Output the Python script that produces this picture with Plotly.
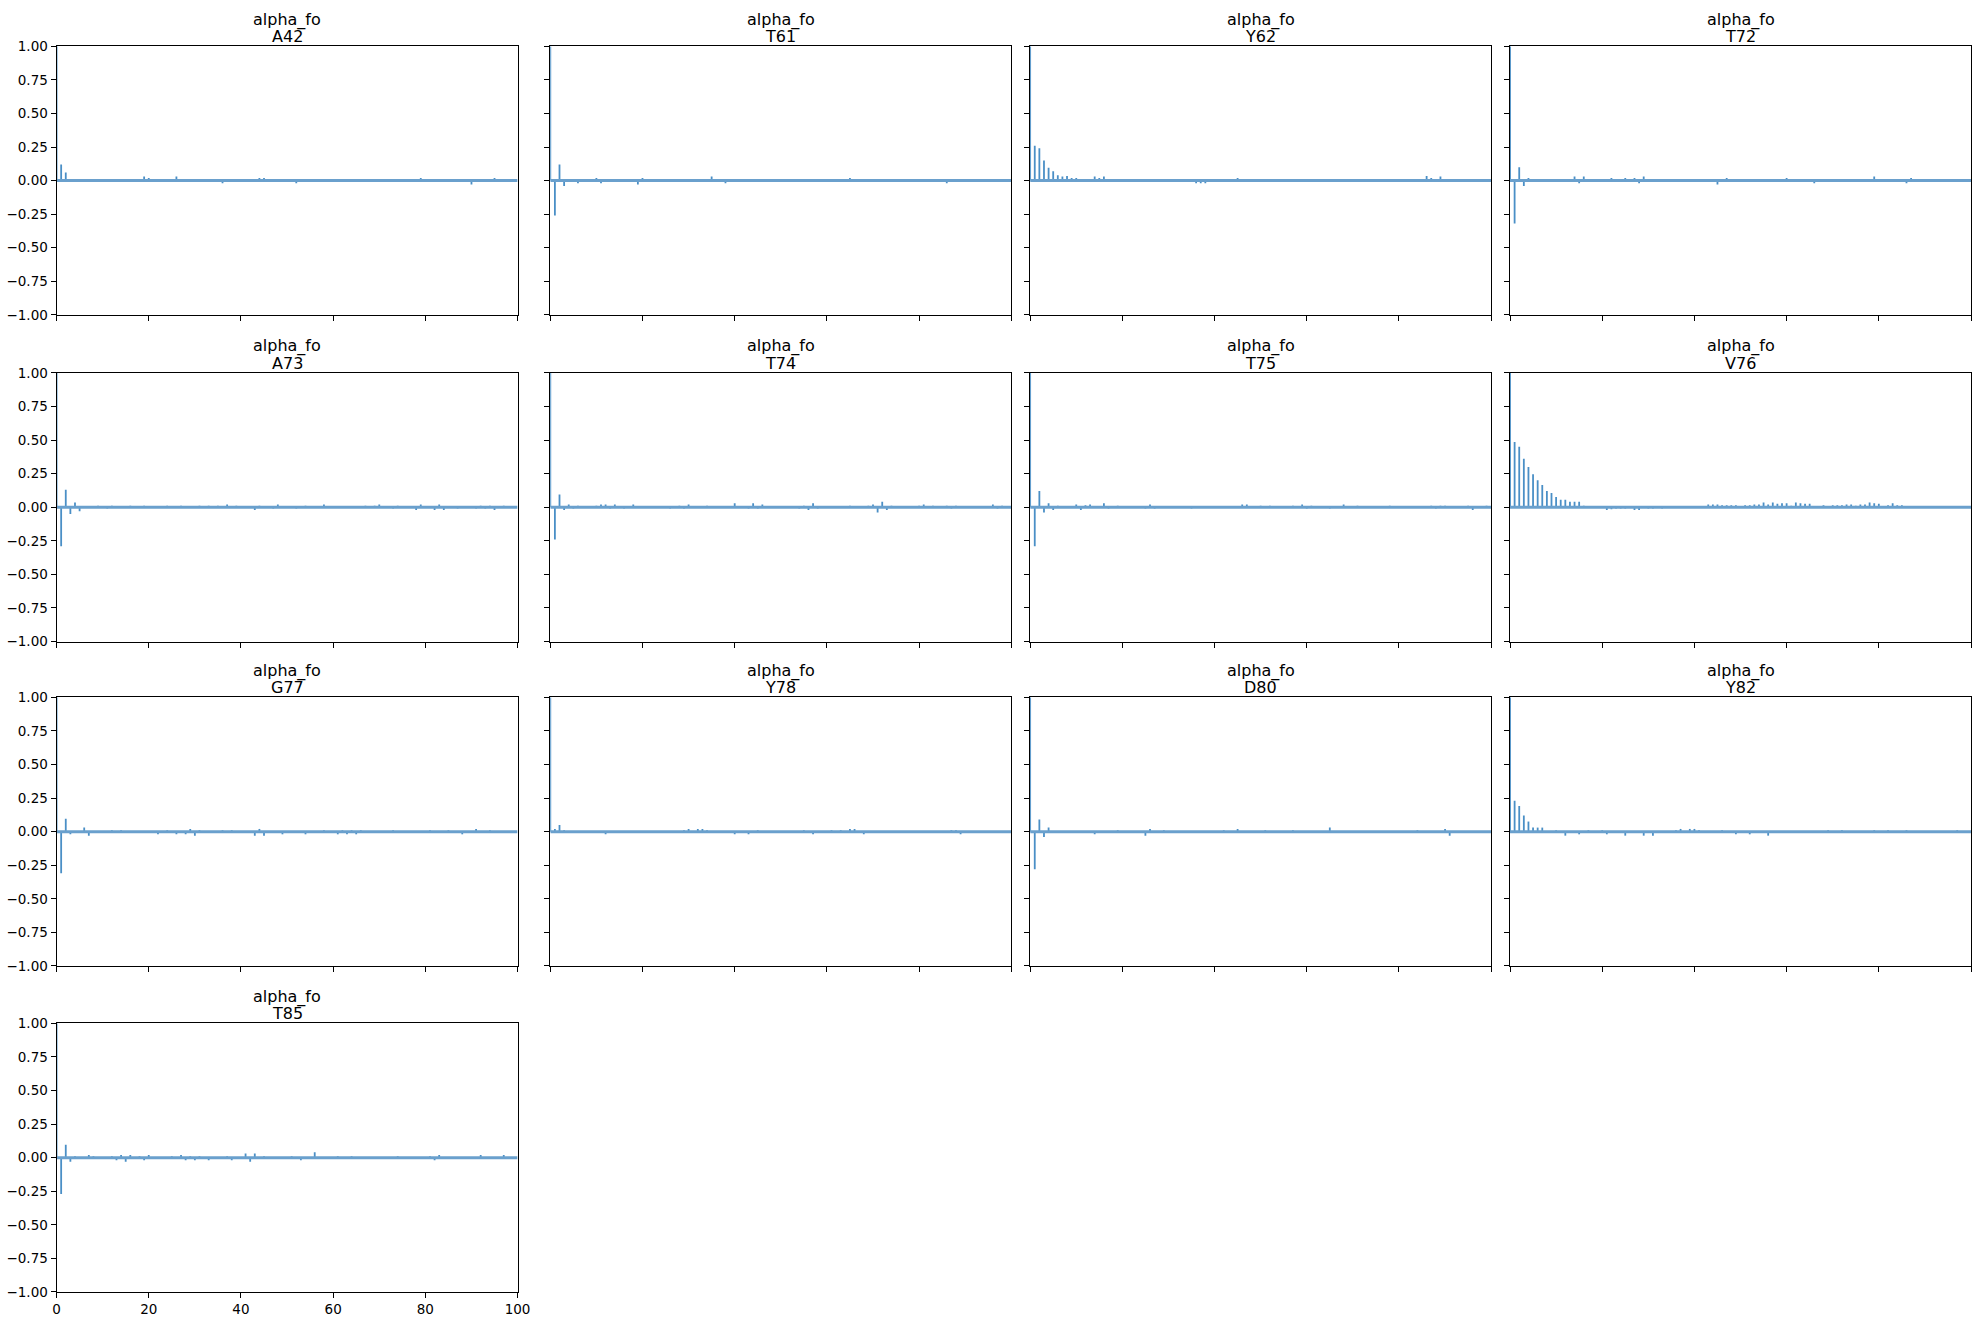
import plotly.graph_objects as go

param_name = "alpha_fo"
var_names = ["A42", "T61", "Y62", "T72", "A73", "T74", "T75", "V76",
             "G77", "Y78", "D80", "Y82", "T85"]
lags = list(range(100))
max_lag = 100

acf_A42 = [1.0, 0.12, 0.06, 0.01, 0.004, 0.01, 0.002, -0.003, -0.01, -0.01,
           -0.01, 0.002, 0.004, -0.01, 0.003, 0.01, 0.002, 0.004, 0.006, 0.03,
           0.02, 0.004, 0.01, 0.002, 0.001, 0.003, 0.03, 0.006, -0.01, -0.01,
           0.01, 0.004, 0.003, 0.01, 0.002, -0.004, -0.02, 0.002, -0.01, 0.01,
           0.003, 0.002, 0.01, 0.004, 0.02, 0.02, 0.003, 0.002, 0.004, -0.003,
           0.002, -0.004, -0.02, 0.003, 0.002, 0.004, 0.01, -0.01, 0.003, 0.002,
           -0.003, -0.01, 0.01, 0.004, 0.002, 0.01, 0.003, -0.003, -0.01, 0.002,
           0.003, 0.004, 0.002, 0.003, -0.004, 0.002, -0.01, -0.01, 0.004, 0.02,
           0.003, 0.01, 0.002, 0.01, 0.004, 0.002, -0.003, 0.003, 0.002, 0.01,
           -0.03, 0.01, 0.002, 0.004, 0.01, 0.02, 0.003, 0.01, 0.004, 0.003]
acf_T61 = [1.0, -0.26, 0.12, -0.04, 0.01, 0.01, -0.02, 0.003, 0.004, 0.002,
           0.02, -0.02, 0.01, 0.002, 0.003, -0.01, 0.004, -0.01, 0.002, -0.03,
           0.02, 0.003, 0.004, 0.002, 0.003, 0.004, 0.002, 0.003, 0.002, 0.003,
           0.002, 0.004, 0.002, 0.003, 0.001, 0.03, 0.003, 0.002, -0.02, 0.003,
           0.004, 0.01, -0.01, 0.01, 0.002, 0.003, 0.004, 0.01, -0.01, 0.003,
           -0.01, 0.002, 0.004, 0.003, 0.01, 0.002, 0.003, 0.004, 0.002, -0.01,
           0.01, 0.003, 0.004, 0.002, 0.003, 0.02, 0.003, 0.004, 0.002, -0.01,
           0.003, -0.01, 0.01, 0.002, 0.003, -0.01, 0.004, 0.01, 0.002, 0.003,
           0.01, -0.01, 0.01, 0.002, 0.01, -0.01, -0.02, 0.01, 0.002, 0.003,
           0.004, 0.002, -0.01, 0.003, 0.002, 0.01, 0.003, -0.01, 0.002, 0.003]
acf_Y62 = [1.0, 0.26, 0.24, 0.15, 0.095, 0.07, 0.04, 0.03, 0.035, 0.02,
           0.02, 0.01, 0.005, 0.005, 0.03, 0.02, 0.03, 0.005, 0.003, 0.002,
           0.001, 0.003, -0.01, 0.002, 0.004, 0.002, 0.003, -0.002, -0.01, 0.01,
           0.003, 0.002, 0.001, 0.003, 0.002, -0.003, -0.02, -0.02, -0.02, 0.003,
           -0.01, 0.002, 0.01, 0.003, 0.01, 0.02, 0.01, 0.01, 0.01, 0.01,
           -0.01, 0.003, 0.002, 0.01, 0.003, 0.002, 0.004, 0.003, -0.01, -0.01,
           0.003, -0.01, 0.002, -0.01, 0.002, 0.003, 0.001, 0.002, 0.003, 0.002,
           0.003, 0.002, 0.001, 0.002, 0.001, 0.001, 0.002, 0.001, 0.002, 0.001,
           0.001, 0.002, 0.003, 0.002, 0.003, 0.004, 0.035, 0.02, 0.003, 0.03,
           0.004, 0.01, 0.003, 0.002, 0.001, 0.002, 0.001, 0.002, 0.003, 0.002]
acf_T72 = [1.0, -0.32, 0.10, -0.04, 0.02, -0.01, 0.01, -0.01, 0.003, 0.002,
           0.004, 0.003, 0.002, 0.004, 0.03, -0.02, 0.03, -0.01, 0.002, 0.01,
           -0.01, 0.003, 0.02, 0.002, -0.01, 0.02, 0.003, 0.02, -0.02, 0.03,
           0.003, 0.002, -0.01, 0.003, 0.002, 0.004, 0.002, 0.003, 0.002, 0.01,
           0.003, 0.002, 0.004, 0.003, 0.01, -0.03, 0.003, 0.02, 0.002, 0.004,
           -0.01, 0.01, 0.003, 0.002, 0.004, 0.003, 0.002, 0.003, 0.004, 0.002,
           0.02, -0.01, 0.003, -0.01, 0.002, 0.003, -0.02, 0.002, 0.003, 0.002,
           0.003, -0.01, 0.002, 0.003, 0.004, 0.002, 0.003, 0.002, -0.01, 0.03,
           -0.01, 0.01, -0.01, 0.01, 0.002, 0.003, -0.02, 0.02, 0.002, 0.01,
           0.01, 0.003, 0.002, 0.004, 0.002, 0.003, 0.002, 0.004, 0.003, 0.002]
acf_A73 = [1.0, -0.29, 0.13, -0.05, 0.035, -0.03, 0.003, 0.004, 0.002, 0.01,
           0.003, -0.01, 0.01, 0.002, 0.003, 0.004, 0.01, 0.002, 0.003, 0.01,
           0.002, 0.003, 0.004, 0.002, 0.01, 0.003, 0.002, 0.01, 0.003, 0.002,
           0.003, 0.01, 0.002, 0.01, 0.003, 0.01, 0.002, 0.02, 0.003, 0.01,
           0.002, 0.003, 0.004, -0.02, 0.01, 0.003, 0.002, -0.01, 0.02, 0.003,
           0.002, 0.004, -0.01, 0.003, 0.01, 0.002, 0.003, 0.004, 0.02, 0.003,
           0.002, 0.003, 0.004, 0.002, 0.003, 0.004, 0.002, 0.01, 0.003, 0.01,
           0.02, 0.003, 0.002, -0.01, 0.01, 0.003, 0.002, 0.004, -0.02, 0.02,
           0.003, 0.002, -0.02, 0.02, -0.02, 0.003, 0.002, -0.01, 0.003, 0.004,
           0.002, -0.01, 0.01, -0.01, 0.01, -0.02, 0.003, 0.01, 0.002, 0.003]
acf_T74 = [1.0, -0.24, 0.095, -0.02, 0.02, -0.01, 0.01, 0.003, 0.002, 0.004,
           0.01, 0.02, 0.02, -0.01, 0.02, 0.003, -0.01, 0.002, 0.02, 0.003,
           0.002, 0.004, 0.003, 0.002, 0.003, 0.002, -0.01, 0.003, 0.01, -0.01,
           0.02, 0.003, 0.002, 0.004, 0.01, 0.003, 0.002, 0.003, 0.004, 0.002,
           0.03, 0.003, 0.002, -0.01, 0.03, -0.01, 0.02, 0.003, 0.002, 0.004,
           0.003, 0.002, 0.003, 0.004, -0.01, 0.01, -0.02, 0.03, -0.01, 0.003,
           0.002, 0.004, 0.003, 0.002, 0.003, 0.01, 0.002, 0.003, 0.004, 0.01,
           0.02, -0.04, 0.04, -0.02, 0.01, 0.003, 0.002, 0.004, 0.003, 0.002,
           0.01, 0.02, 0.003, 0.01, 0.002, 0.003, 0.01, -0.01, 0.01, 0.003,
           0.002, 0.004, 0.003, 0.002, 0.003, 0.004, 0.02, -0.01, 0.01, 0.003]
acf_T75 = [1.0, -0.29, 0.12, -0.04, 0.03, -0.02, 0.01, 0.003, 0.002, 0.004,
           0.02, -0.02, 0.015, 0.02, 0.003, 0.002, 0.03, -0.01, 0.003, 0.01,
           0.003, 0.004, 0.002, 0.003, 0.002, -0.01, 0.02, -0.01, 0.003, 0.002,
           0.004, 0.003, 0.002, 0.003, 0.004, -0.01, 0.002, 0.003, 0.002, 0.004,
           0.003, 0.002, 0.003, 0.004, 0.002, 0.003, 0.02, 0.02, 0.003, 0.002,
           0.01, 0.003, 0.01, 0.002, 0.004, 0.003, 0.002, 0.01, 0.003, 0.02,
           -0.01, 0.01, 0.002, 0.003, 0.004, -0.01, 0.002, 0.003, 0.02, 0.003,
           0.002, 0.01, 0.003, 0.002, 0.004, 0.003, 0.002, 0.003, 0.01, 0.002,
           0.003, 0.004, 0.002, 0.003, 0.002, 0.004, 0.003, 0.01, -0.01, 0.01,
           0.01, 0.003, 0.002, 0.004, 0.003, 0.01, -0.02, 0.003, 0.002, 0.01]
acf_V76 = [1.0, 0.485, 0.45, 0.36, 0.30, 0.245, 0.20, 0.165, 0.12, 0.105,
           0.075, 0.055, 0.055, 0.04, 0.04, 0.04, 0.01, 0.005, 0.003, -0.002,
           -0.005, -0.02, -0.015, -0.01, -0.01, -0.01, -0.003, -0.02, -0.02, -0.005,
           -0.01, -0.01, -0.005, -0.01, -0.003, 0.002, 0.003, 0.002, 0.001, 0.002,
           0.005, 0.003, 0.005, 0.02, 0.02, 0.02, 0.015, 0.015, 0.015, 0.015,
           0.005, 0.015, 0.015, 0.02, 0.02, 0.035, 0.02, 0.035, 0.025, 0.03,
           0.03, 0.01, 0.035, 0.03, 0.025, 0.025, 0.005, 0.003, 0.015, 0.003,
           0.015, 0.015, 0.015, 0.02, 0.02, 0.01, 0.02, 0.02, 0.035, 0.03,
           0.025, 0.005, 0.015, 0.03, 0.015, 0.015, 0.003, -0.003, -0.002, 0.002,
           0.003, -0.002, 0.002, 0.003, 0.002, -0.003, 0.002, 0.005, 0.003, 0.002]
acf_G77 = [1.0, -0.31, 0.095, -0.02, 0.003, -0.01, 0.03, -0.03, 0.003, 0.002,
           0.004, -0.01, 0.01, -0.01, 0.01, 0.003, 0.002, 0.004, 0.003, 0.002,
           -0.01, 0.003, -0.02, 0.002, 0.01, 0.003, -0.02, 0.002, -0.02, 0.02,
           -0.03, 0.01, 0.003, 0.002, 0.004, 0.003, 0.01, 0.002, 0.01, -0.01,
           0.003, 0.002, 0.004, -0.03, 0.02, -0.03, 0.003, 0.002, 0.004, -0.02,
           0.003, 0.002, 0.004, 0.003, -0.02, 0.002, 0.003, 0.004, 0.01, 0.002,
           0.003, -0.02, 0.01, -0.02, 0.01, -0.02, 0.01, 0.003, 0.002, 0.004,
           0.003, 0.002, -0.01, 0.01, 0.003, 0.002, 0.004, 0.003, 0.002, 0.003,
           0.004, 0.01, 0.002, 0.003, 0.004, 0.01, 0.002, 0.003, -0.02, 0.002,
           -0.01, 0.02, 0.003, 0.002, 0.01, -0.01, 0.003, 0.002, -0.01, 0.003]
acf_Y78 = [1.0, 0.02, 0.05, 0.01, 0.002, 0.001, 0.002, 0.001, 0.002, 0.003,
           0.001, 0.002, -0.02, 0.001, 0.002, 0.003, 0.002, 0.001, 0.002, 0.003,
           0.002, 0.001, -0.01, 0.002, 0.003, 0.002, 0.001, 0.002, 0.003, 0.01,
           0.02, 0.003, 0.02, 0.02, 0.01, 0.003, 0.002, 0.004, 0.002, 0.003,
           -0.02, 0.003, 0.002, -0.02, 0.003, 0.01, 0.002, -0.01, 0.003, 0.002,
           0.003, 0.002, 0.004, 0.003, -0.01, 0.01, 0.002, -0.02, -0.01, 0.003,
           0.002, 0.01, 0.003, 0.01, 0.002, 0.02, 0.02, -0.01, -0.02, 0.003,
           0.002, 0.003, -0.01, 0.002, 0.003, 0.002, 0.004, 0.003, 0.002, 0.003,
           0.002, 0.003, 0.002, 0.004, -0.01, 0.003, 0.002, 0.01, 0.01, -0.02,
           0.003, 0.002, 0.003, 0.002, 0.003, 0.002, 0.003, -0.01, 0.002, 0.003]
acf_D80 = [1.0, -0.28, 0.09, -0.04, 0.03, 0.002, 0.003, 0.002, 0.003, 0.004,
           0.003, -0.01, 0.002, 0.003, -0.02, 0.002, 0.003, 0.004, 0.002, 0.01,
           0.003, 0.002, -0.01, 0.003, 0.002, -0.03, 0.02, 0.003, -0.01, 0.01,
           0.003, 0.002, 0.003, 0.004, 0.002, 0.003, 0.002, 0.003, 0.002, 0.003,
           0.002, -0.01, 0.01, -0.01, 0.002, 0.02, 0.003, 0.002, 0.004, 0.003,
           -0.01, 0.01, 0.003, -0.01, 0.002, 0.003, 0.004, 0.01, 0.002, 0.003,
           0.002, 0.003, 0.004, 0.002, 0.003, 0.03, -0.01, 0.003, 0.002, 0.004,
           0.003, 0.002, 0.003, 0.004, 0.002, -0.01, 0.003, 0.002, 0.003, -0.01,
           0.002, 0.003, 0.004, 0.002, 0.01, -0.01, 0.003, 0.002, 0.004, 0.003,
           0.02, -0.03, 0.002, 0.003, 0.004, 0.002, 0.003, 0.002, 0.003, 0.002]
acf_Y82 = [1.0, 0.23, 0.19, 0.12, 0.075, 0.03, 0.03, 0.03, 0.002, 0.003,
           0.01, 0.003, -0.03, 0.002, 0.003, -0.02, 0.002, 0.01, 0.003, 0.002,
           0.01, -0.02, -0.01, 0.003, 0.002, -0.03, 0.003, 0.002, 0.003, -0.03,
           0.002, -0.03, 0.003, 0.002, 0.004, 0.003, 0.01, 0.02, 0.003, 0.02,
           0.02, 0.01, 0.003, 0.002, 0.004, 0.003, 0.01, -0.01, 0.002, -0.02,
           -0.01, 0.003, -0.02, 0.002, -0.01, -0.01, -0.03, -0.01, 0.003, -0.01,
           0.002, 0.003, 0.002, -0.01, -0.01, 0.003, 0.002, 0.004, 0.003, 0.01,
           0.002, 0.003, 0.01, 0.002, 0.003, 0.004, -0.01, 0.002, 0.003, 0.01,
           0.002, 0.003, 0.01, 0.002, 0.003, 0.004, 0.01, 0.003, 0.002, 0.003,
           0.004, 0.002, 0.003, 0.002, 0.004, 0.003, 0.002, 0.01, -0.01, 0.003]
acf_T85 = [1.0, -0.27, 0.095, -0.03, 0.01, 0.002, 0.003, 0.02, 0.01, 0.003,
           0.002, 0.004, 0.01, -0.02, 0.02, -0.03, 0.02, 0.003, 0.01, -0.02,
           0.02, -0.01, 0.003, 0.002, 0.004, 0.01, -0.01, 0.02, -0.02, 0.01,
           -0.02, 0.01, 0.003, -0.02, 0.002, 0.003, 0.004, 0.01, -0.02, 0.003,
           -0.01, 0.03, -0.03, 0.03, 0.003, 0.01, -0.01, 0.002, 0.003, 0.004,
           0.002, 0.01, 0.003, -0.02, 0.002, -0.01, 0.04, 0.003, 0.002, 0.004,
           0.003, 0.01, 0.002, 0.003, 0.01, 0.002, 0.003, 0.004, 0.002, 0.003,
           0.002, 0.003, 0.004, -0.01, 0.01, -0.01, 0.003, -0.01, 0.002, 0.003,
           0.004, 0.01, -0.02, 0.02, -0.01, 0.003, 0.002, 0.004, 0.003, 0.002,
           0.003, 0.004, 0.02, -0.01, 0.003, -0.01, 0.002, 0.02, -0.01, 0.003]

series = [acf_A42, acf_T61, acf_Y62, acf_T72, acf_A73, acf_T74, acf_T75,
          acf_V76, acf_G77, acf_Y78, acf_D80, acf_Y82, acf_T85]

x_tick_vals = [0, 20, 40, 60, 80, 100]
y_tick_vals = [-1.0, -0.75, -0.5, -0.25, 0.0, 0.25, 0.5, 0.75, 1.0]

# ---- layout geometry (pixels) ----
W, H = 1987, 1324
col_px = [(53, 518), (551, 1016), (1035, 1500), (1519, 1984)]
row_px = [(38.7, 310.7), (369.3, 641.3), (697.7, 969.7), (1027.7, 1299.7)]

VCOLOR = "#4a8fc6"
HCOLOR = "#6aa0cd"
FONT = "DejaVu Sans"

fig = go.Figure()
layout = dict(
    width=W, height=H,
    margin=dict(l=0, r=0, t=0, b=0),
    paper_bgcolor="white", plot_bgcolor="white",
    showlegend=False,
    font=dict(family=FONT, color="black"),
)
annotations = []

n = len(var_names)
for i, (name, vals) in enumerate(zip(var_names, series)):
    r, c = divmod(i, 4)
    k = "" if i == 0 else str(i + 1)
    xs, ys = [], []
    for lag, v in zip(lags, vals):
        xs += [lag, lag, None]
        ys += [0, v, None]
    fig.add_trace(go.Scatter(x=xs, y=ys, mode="lines",
                             line=dict(color=VCOLOR, width=1.8),
                             xaxis="x" + k, yaxis="y" + k,
                             hoverinfo="skip", showlegend=False))
    fig.add_trace(go.Scatter(x=[0, max_lag], y=[0, 0], mode="lines",
                             line=dict(color=HCOLOR, width=3),
                             xaxis="x" + k, yaxis="y" + k,
                             hoverinfo="skip", showlegend=False))
    x0, x1 = col_px[c]
    y0, y1 = row_px[r]
    show_x = (i == n - 1)
    show_y = (c == 0)
    layout["xaxis" + k] = dict(
        domain=[x0 / W, x1 / W], anchor="y" + k, range=[0, max_lag],
        tickvals=x_tick_vals, showticklabels=show_x,
        ticks="outside", ticklen=5, tickwidth=1, tickcolor="black",
        showline=True, mirror=True, linecolor="black", linewidth=1,
        showgrid=False, zeroline=False,
        tickfont=dict(family=FONT, size=13.5, color="black"),
    )
    layout["yaxis" + k] = dict(
        domain=[1 - y1 / H, 1 - y0 / H], anchor="x" + k, range=[-1, 1],
        tickvals=y_tick_vals, tickformat=".2f", showticklabels=show_y,
        ticks="outside", ticklen=5, tickwidth=1, tickcolor="black",
        showline=True, mirror=True, linecolor="black", linewidth=1,
        showgrid=False, zeroline=False,
        tickfont=dict(family=FONT, size=13.5, color="black"),
    )
    xc = (x0 + x1) / 2 / W
    annotations.append(dict(text=param_name, x=xc, y=1 - (y0 - 27) / H,
                            xref="paper", yref="paper", xanchor="center",
                            yanchor="middle", showarrow=False,
                            font=dict(family=FONT, size=16, color="black")))
    annotations.append(dict(text=name, x=xc, y=1 - (y0 - 9.5) / H,
                            xref="paper", yref="paper", xanchor="center",
                            yanchor="middle", showarrow=False,
                            font=dict(family=FONT, size=16, color="black")))

layout["annotations"] = annotations
fig.update_layout(**layout)
fig.write_html("out.html")
